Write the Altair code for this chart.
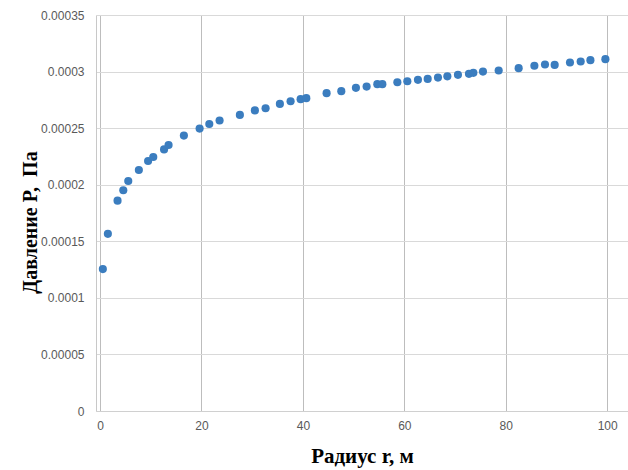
import altair as alt
import pandas as pd

radius = [0.55, 1.54, 3.45, 4.58, 5.56, 7.65, 9.47, 10.49, 12.62, 13.51,
          16.53, 19.63, 21.54, 23.57, 27.57, 30.53, 32.64, 35.46, 37.57, 39.55,
          40.67, 44.67, 47.57, 50.45, 52.56, 54.67, 55.66, 58.62, 60.59, 62.68,
          64.6, 66.63, 68.48, 70.57, 72.74, 73.61, 75.5, 78.6, 82.54, 85.64,
          87.73, 89.64, 92.66, 94.77, 96.69, 99.64]
pressure = [0.0001254, 0.0001566, 0.0001859, 0.0001951, 0.0002033, 0.0002130,
            0.0002210, 0.0002245, 0.0002312, 0.0002351, 0.0002434, 0.0002496,
            0.0002537, 0.0002567, 0.0002617, 0.0002657, 0.0002676, 0.0002714,
            0.0002738, 0.0002756, 0.0002765, 0.0002809, 0.0002827, 0.0002856,
            0.0002867, 0.0002889, 0.0002889, 0.0002906, 0.0002915, 0.0002927,
            0.0002935, 0.0002947, 0.0002958, 0.0002971, 0.0002980, 0.0002989,
            0.0003000, 0.0003009, 0.0003030, 0.0003051, 0.0003062, 0.0003059,
            0.0003080, 0.0003089, 0.0003101, 0.0003110]

x_ticks = [0, 20, 40, 60, 80, 100]
y_ticks = [0, 0.00005, 0.0001, 0.00015, 0.0002, 0.00025, 0.0003, 0.00035]

df = pd.DataFrame({"r": radius, "p": pressure})

chart = alt.Chart(df).mark_circle(size=66, opacity=1, color="#3b7dbf").encode(
    x=alt.X("r:Q",
            scale=alt.Scale(domain=[-0.8, 104.1], nice=False, zero=False),
            axis=alt.Axis(values=x_ticks, format="d", title="Радиус r, м",
                          grid=True, gridColor="#bdbdbd", gridWidth=1,
                          domainColor="#d0d0d0", ticks=False,
                          labelColor="#595959", labelFont="Liberation Sans",
                          labelFontSize=12, labelPadding=9,
                          titleFont="Liberation Serif", titleFontSize=21,
                          titleFontWeight="bold", titleColor="#000000",
                          titleX=266, titleY=45, titleBaseline="middle",
                          titleAlign="center")),
    y=alt.Y("p:Q",
            scale=alt.Scale(domain=[0, 0.00035], nice=False),
            axis=alt.Axis(values=y_ticks, format=".2~g",
                          title="Давление P,\u00a0 Па",
                          grid=True, gridColor="#d9d9d9", gridWidth=1,
                          domainColor="#c8c8c8", ticks=False,
                          labelColor="#595959", labelFont="Liberation Sans",
                          labelFontSize=12, labelPadding=12,
                          titleFont="Liberation Serif", titleFontSize=20,
                          titleFontWeight="bold", titleColor="#000000",
                          titleAngle=-90, titleX=-66, titleY=207,
                          titleBaseline="middle", titleAlign="center")),
).properties(
    width=532, height=396,
    autosize=alt.AutoSizeParams(type="none"),
    padding={"left": 96, "top": 15, "right": 0, "bottom": 59},
    background="white",
).configure_view(stroke=None)

chart.save("out.html", embed_options={"renderer": "svg", "actions": False})
